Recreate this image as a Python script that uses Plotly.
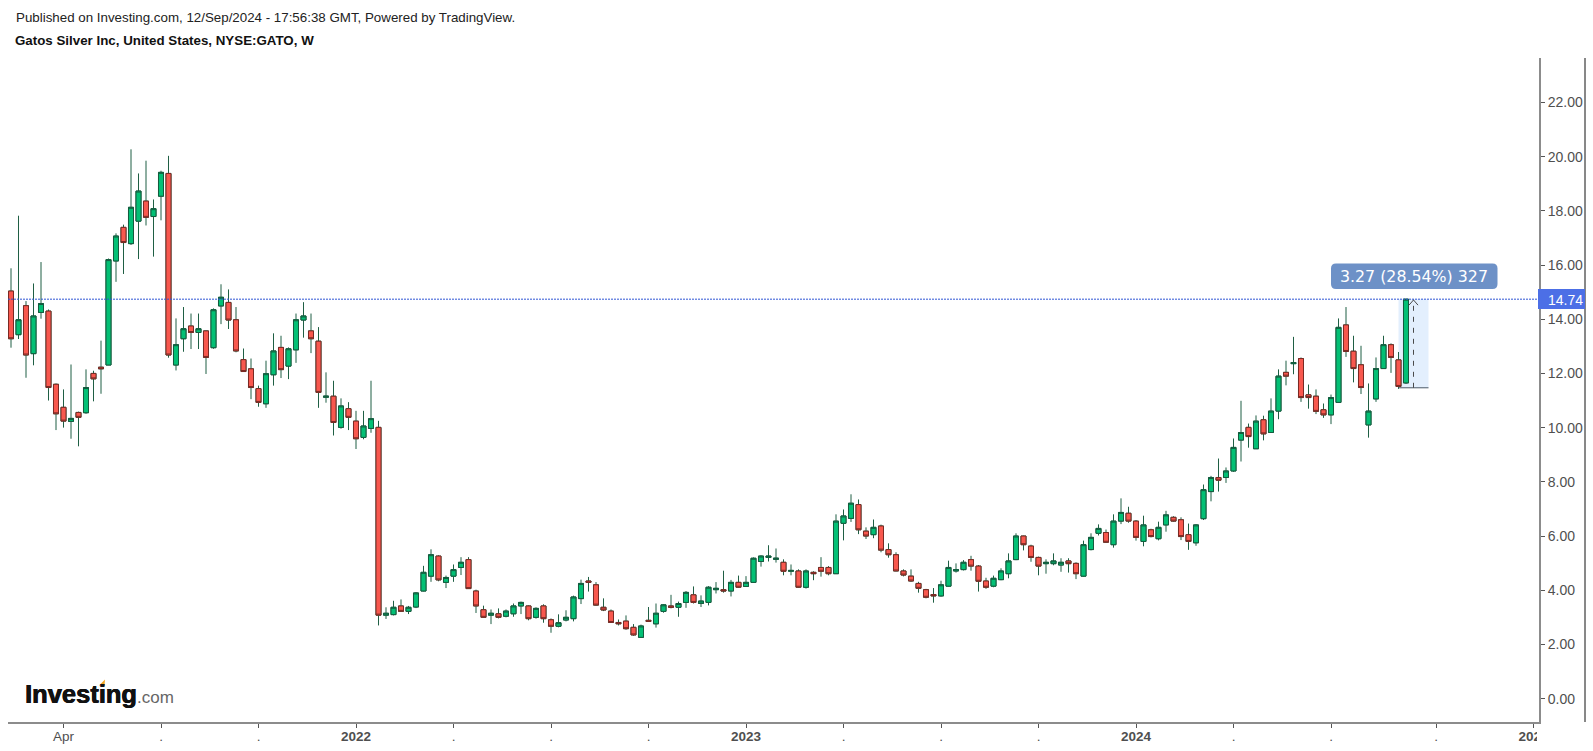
import pandas as pd
import plotly.graph_objects as go

FIRST_WEEK = "2021-02-15"
OPEN = [15.04,13.43,14.50,12.73,14.25,14.30,11.60,10.75,10.23,10.56,
10.55,12.00,12.23,12.31,16.15,17.39,16.79,17.62,18.36,17.79,
18.54,19.38,12.31,13.28,13.75,13.51,13.57,12.95,14.49,14.62,
13.98,12.51,12.17,11.44,10.88,11.95,12.96,12.27,12.87,13.97,
13.57,13.19,11.12,11.16,10.01,10.70,10.24,9.64,9.97,10.01,
3.08,3.10,3.42,3.22,3.38,3.97,4.52,5.26,4.29,4.52,
4.84,5.13,3.97,3.28,3.08,3.13,3.04,3.13,3.42,3.42,
3.00,3.42,2.91,2.67,2.90,2.95,3.69,4.34,4.20,3.37,
3.23,2.81,2.86,2.63,2.26,2.89,2.76,3.22,3.42,3.37,
3.55,3.83,3.51,3.55,4.02,4.02,3.97,4.29,4.14,4.29,
5.06,5.21,5.14,5.03,4.70,4.71,4.11,4.66,4.84,4.84,
4.61,6.47,6.65,7.16,6.18,6.05,6.37,5.50,5.31,4.71,
4.52,4.25,4.02,3.84,3.79,4.15,4.71,4.76,5.13,4.89,
4.34,4.15,4.39,4.61,5.13,6.00,5.63,5.21,4.98,4.98,
4.93,5.08,4.99,4.52,5.50,6.10,6.13,5.68,6.55,6.84,
6.55,5.80,6.23,5.90,6.41,6.69,6.60,6.05,5.75,6.64,
7.64,8.16,8.16,8.40,9.54,10.01,9.22,10.29,9.82,10.61,
12.04,12.36,12.55,11.21,11.16,10.66,10.47,10.93,13.79,12.82,
12.32,10.10,11.06,12.18,13.06,12.50,11.65]
HIGH = [15.88,17.82,14.67,15.32,16.11,14.36,11.63,11.41,12.33,10.59,
12.15,12.10,13.21,16.24,17.17,17.49,20.27,19.38,19.85,18.42,
19.48,20.03,14.03,14.45,14.21,14.21,13.58,14.40,15.29,15.10,
14.45,12.92,12.55,11.55,12.47,13.48,13.39,12.96,14.21,14.63,
14.21,13.71,12.04,11.73,11.08,10.94,10.62,10.62,11.73,10.25,
3.37,3.61,3.66,3.42,3.93,4.90,5.51,5.29,4.54,4.95,
5.22,5.22,4.02,3.43,3.29,3.33,3.29,3.51,3.58,3.44,
3.37,3.48,2.96,3.11,3.26,3.80,4.39,4.49,4.30,3.70,
3.29,2.92,3.07,2.75,2.73,3.38,3.51,3.49,3.83,3.58,
3.97,4.14,3.81,4.15,4.30,4.72,4.38,4.54,4.52,5.21,
5.29,5.66,5.54,5.14,4.95,4.77,4.77,4.70,5.22,4.89,
6.80,6.98,7.54,7.35,6.32,6.61,6.42,5.73,5.40,4.77,
4.77,4.31,4.05,4.08,4.35,5.09,4.99,5.11,5.27,4.93,
4.46,4.54,4.81,5.36,6.10,6.01,5.68,5.24,5.14,5.36,
5.18,5.18,5.03,5.83,6.10,6.43,6.24,6.80,7.39,7.08,
6.59,6.75,6.27,6.53,6.93,6.73,6.69,6.46,6.44,7.90,
8.22,8.86,8.53,9.60,10.99,10.15,10.45,10.44,11.08,12.15,
12.47,13.35,12.59,11.59,11.41,10.89,11.22,14.03,14.45,13.39,
13.02,11.63,12.59,13.39,13.11,12.79,14.74]
LOW = [12.95,13.27,11.84,12.30,14.02,11.00,9.91,10.00,9.59,9.31,
10.51,10.97,11.25,12.31,15.38,15.67,16.74,16.22,17.46,16.31,
17.65,12.58,12.11,12.80,12.90,12.90,11.98,12.91,13.82,13.64,
12.78,12.07,11.05,10.77,10.73,11.55,11.83,11.79,12.39,13.32,
12.75,10.73,10.92,9.71,9.96,9.91,9.21,9.57,9.81,2.70,
2.94,3.07,3.21,3.12,3.34,3.96,4.31,4.33,4.08,4.31,
4.56,4.05,3.16,2.99,2.75,2.96,3.00,3.02,3.12,2.89,
2.95,2.80,2.43,2.63,2.85,2.85,3.49,3.95,3.43,3.23,
2.80,2.70,2.54,2.32,2.25,2.84,2.62,3.17,3.33,3.02,
3.35,3.51,3.38,3.44,3.88,3.91,3.77,4.09,4.13,4.28,
4.87,5.06,5.02,4.55,4.55,4.09,4.06,4.37,4.50,4.55,
4.61,5.84,6.52,6.07,5.89,5.92,5.40,5.20,4.70,4.51,
4.31,3.91,3.70,3.54,3.76,4.14,4.65,4.73,4.72,3.95,
4.05,4.11,4.37,4.44,5.11,5.47,5.05,4.55,4.61,4.92,
4.68,4.65,4.41,4.50,5.47,6.02,5.75,5.57,6.44,6.49,
5.83,5.62,5.95,5.84,6.16,6.53,5.85,5.49,5.64,6.59,
7.28,7.64,7.96,8.37,8.75,9.26,9.21,9.53,9.81,10.31,
11.56,11.97,10.95,10.70,10.50,10.36,10.13,10.92,12.61,11.67,
11.24,9.63,10.95,12.17,12.02,11.43,11.61]
CLOSE = [13.28,13.98,12.68,14.12,14.58,11.48,10.51,10.24,10.34,10.38,
11.48,11.80,12.17,16.20,17.07,16.83,18.13,18.73,17.76,18.08,
19.42,12.68,13.06,13.65,13.51,13.65,12.59,14.35,14.81,13.97,
12.83,12.07,11.48,10.93,11.99,12.83,12.14,12.91,13.98,14.12,
13.28,11.30,11.16,10.19,10.80,10.38,9.59,10.06,10.33,3.08,
3.15,3.37,3.22,3.37,3.90,4.66,5.31,4.38,4.47,4.76,
5.03,4.06,3.42,3.00,3.15,3.00,3.23,3.42,3.55,2.95,
3.33,2.95,2.67,2.80,3.00,3.75,4.25,4.29,3.45,3.27,
2.81,2.76,2.58,2.35,2.68,2.85,3.15,3.46,3.37,3.51,
3.92,3.55,3.60,4.11,4.07,3.97,4.29,4.11,4.29,5.18,
5.26,5.26,5.18,4.70,4.73,4.11,4.71,4.61,4.70,4.61,
6.55,6.74,7.21,6.23,6.00,6.32,5.48,5.31,4.71,4.56,
4.34,4.07,3.74,3.79,4.20,4.84,4.76,5.03,4.89,4.33,
4.11,4.44,4.71,5.08,6.00,5.68,5.21,4.89,5.03,5.08,
5.03,4.98,4.61,5.68,5.95,6.28,5.77,6.55,6.87,6.55,
5.95,6.41,5.98,6.32,6.78,6.55,5.98,5.80,6.41,7.71,
8.16,8.06,8.40,9.27,9.82,9.67,10.24,9.77,10.61,11.90,
11.90,12.40,11.11,11.11,10.60,10.47,11.11,13.70,12.81,12.18,
11.48,10.61,12.18,13.06,12.59,11.52,14.74]
X_TICK_DATES = ["2021-04-05","2021-07-05","2021-10-04","2022-01-03","2022-04-04","2022-07-04","2022-10-03",
                "2023-01-02","2023-04-03","2023-07-03","2023-10-02","2024-01-01","2024-04-01","2024-07-01",
                "2024-10-07","2025-01-06"]
X_TICK_TEXT = ["Apr",".",".","<b>2022</b>",".",".",".","<b>2023</b>",".",".",".","<b>2024</b>",".",".",".","<b>2025</b>"]
Y_TICKS = [0,2,4,6,8,10,12,14,16,18,20,22]
LAST_PRICE = 14.74
RANGE_FROM = 11.47
HEADER_1 = "Published on Investing.com, 12/Sep/2024 - 17:56:38 GMT, Powered by TradingView."
HEADER_2 = "Gatos Silver Inc, United States, NYSE:GATO, W"
RANGE_LABEL = "3.27 (28.54%) 327"

W, H = 1593, 751
L, R, T, B = 8, 1539, 58, 722
FONT = "Liberation Sans, Arial, sans-serif"
GREY = "#4f4f4f"
AXIS = "#8c8c8c"
WICK = "#1f5f44"
UP, UP_LINE = "#03c075", "#145c3e"
DN, DN_LINE = "#f8584e", "#7a2a24"

def xp(x):
    return (x - L) / (R - L)

def yp(y):
    return (B - y) / (B - T)

dates = pd.date_range(FIRST_WEEK, periods=len(OPEN), freq="7D")
day = pd.Timedelta(days=1)
week0 = dates[0]
x_start = week0 - 2.8 * day
x_end = x_start + (R - L) / 7.5 * 7 * day

body_hi = [max(o, c) for o, c in zip(OPEN, CLOSE)]
body_lo = [min(o, c) for o, c in zip(OPEN, CLOSE)]

fig = go.Figure()
# wicks: same dark green whichever way the week closed
fig.add_trace(go.Candlestick(
    x=dates, open=OPEN, high=HIGH, low=LOW, close=CLOSE,
    increasing=dict(line=dict(color=WICK, width=1), fillcolor=WICK),
    decreasing=dict(line=dict(color=WICK, width=1), fillcolor=WICK),
    whiskerwidth=0, showlegend=False, hoverinfo="skip"))
# bodies on top
fig.add_trace(go.Candlestick(
    x=dates, open=OPEN, high=body_hi, low=body_lo, close=CLOSE,
    increasing=dict(line=dict(color=UP_LINE, width=1), fillcolor=UP),
    decreasing=dict(line=dict(color=DN_LINE, width=1), fillcolor=DN),
    whiskerwidth=0, showlegend=False))

rng_x0 = dates[-2]
rng_x1 = dates[-2] + 28 * day
rng_mid = dates[-1] + 7 * day
shapes = [
    dict(type="rect", xref="x", yref="y", x0=rng_x0, x1=rng_x1, y0=RANGE_FROM, y1=LAST_PRICE,
         fillcolor="#e3effd", line=dict(width=0), layer="below"),
    dict(type="line", xref="x", yref="y", x0=rng_x0, x1=rng_x1, y0=RANGE_FROM, y1=RANGE_FROM,
         line=dict(color="#4b5866", width=1)),
    dict(type="line", xref="x", yref="y", x0=rng_mid, x1=rng_mid, y0=RANGE_FROM, y1=LAST_PRICE,
         line=dict(color="#4a4a4a", width=1, dash="5px,6px")),
    dict(type="line", xref="x", yref="y", x0=rng_mid, x1=rng_mid + 4.2 * day, y0=LAST_PRICE - 0.03, y1=LAST_PRICE - 0.22,
         line=dict(color="#4a4a4a", width=1)),
    dict(type="line", xref="x", yref="y", x0=rng_mid, x1=rng_mid - 4.2 * day, y0=LAST_PRICE - 0.03, y1=LAST_PRICE - 0.22,
         line=dict(color="#4a4a4a", width=1)),
    dict(type="line", xref="paper", yref="y", x0=0, x1=1, y0=LAST_PRICE, y1=LAST_PRICE,
         line=dict(color="#2f55d4", width=1, dash="2px,1px")),
    # right border of the picture area
    dict(type="line", xref="paper", yref="paper", x0=xp(1585), x1=xp(1585), y0=yp(722), y1=yp(58),
         line=dict(color="#111111", width=1)),
    # mask that crops the last time label at the axis edge
    dict(type="rect", xref="paper", yref="paper", x0=xp(1537), x1=xp(1584), y0=yp(750), y1=yp(727),
         fillcolor="white", line=dict(width=0), layer="above"),
    # price tag
    dict(type="rect", xref="paper", yref="paper", x0=xp(1538), x1=xp(1585), y0=yp(309), y1=yp(289),
         fillcolor="#4c6fe6", line=dict(width=0), layer="above"),
    # orange flick on the logo
    dict(type="path", xref="paper", yref="paper",
         path=f"M {xp(99)},{yp(685.5)} L {xp(105)},{yp(679.5)} L {xp(104.5)},{yp(685.5)} Z",
         fillcolor="#f5a623", line=dict(width=0), layer="above"),
]
# rounded label box
bx0, bx1, by0, by1, r = 1331, 1497.5, 263.5, 289, 5
shapes.append(dict(type="path", xref="paper", yref="paper",
    path=(f"M {xp(bx0+r)},{yp(by0)} L {xp(bx1-r)},{yp(by0)} Q {xp(bx1)},{yp(by0)} {xp(bx1)},{yp(by0+r)} "
          f"L {xp(bx1)},{yp(by1-r)} Q {xp(bx1)},{yp(by1)} {xp(bx1-r)},{yp(by1)} "
          f"L {xp(bx0+r)},{yp(by1)} Q {xp(bx0)},{yp(by1)} {xp(bx0)},{yp(by1-r)} "
          f"L {xp(bx0)},{yp(by0+r)} Q {xp(bx0)},{yp(by0)} {xp(bx0+r)},{yp(by0)} Z"),
    fillcolor="#6d91c7", line=dict(width=0), layer="above"))

def note(text, x, y, size, color="#222222", anchor="left", family=FONT, shadow=None):
    font = dict(family=family, size=size, color=color)
    if shadow:
        font["shadow"] = shadow
    return dict(text=text, xref="paper", yref="paper", x=xp(x), y=yp(y), xanchor=anchor, yanchor="middle",
                showarrow=False, font=font, borderpad=0)

annotations = [
    note(HEADER_1, 15, 17.5, 13.33),
    note(f"<b>{HEADER_2}</b>", 13.5, 40.5, 13.33, "#111111"),
    note(RANGE_LABEL, 1414.2, 276, 15.8, "white", "center", "DejaVu Sans"),
    note(f"{LAST_PRICE:.2f}", 1546.5, 299.5, 14, "white"),
    note("<b>Investing</b>", 24, 694, 25.5, "#111111", shadow="0.5px 0 0 #111111, -0.3px 0 0 #111111"),
    note(".com", 174.5, 697.5, 17, "#666666", "right"),
]

fig.update_layout(
    width=W, height=H, autosize=False,
    margin=dict(l=L, r=W - R, t=T, b=H - B, pad=0, autoexpand=False),
    paper_bgcolor="white", plot_bgcolor="white",
    boxmode="overlay", boxgap=0.33, boxgroupgap=0, showlegend=False,
    font=dict(family=FONT, size=14, color=GREY),
    shapes=shapes, annotations=annotations,
    xaxis=dict(type="date", range=[x_start, x_end], rangeslider=dict(visible=False),
               tickmode="array", tickvals=X_TICK_DATES, ticktext=X_TICK_TEXT, tickangle=0,
               showgrid=False, zeroline=False, showline=True, linecolor=AXIS, linewidth=2,
               ticks="outside", ticklen=4, tickcolor="#555555", tickfont=dict(size=13.5, color=GREY),
               ticklabelstandoff=-3, fixedrange=True),
    yaxis=dict(side="right", range=[-0.863, 23.64], tickmode="array", tickvals=Y_TICKS,
               tickformat=".2f", showgrid=False, zeroline=False, showline=True, linecolor=AXIS, linewidth=2,
               ticks="outside", ticklen=4, tickcolor="#555555", tickfont=dict(size=14, color=GREY),
               fixedrange=True),
)

fig.write_html("out.html", config=dict(displayModeBar=False),
               post_script="document.body.style.margin='0';document.documentElement.style.overflow='hidden';")
